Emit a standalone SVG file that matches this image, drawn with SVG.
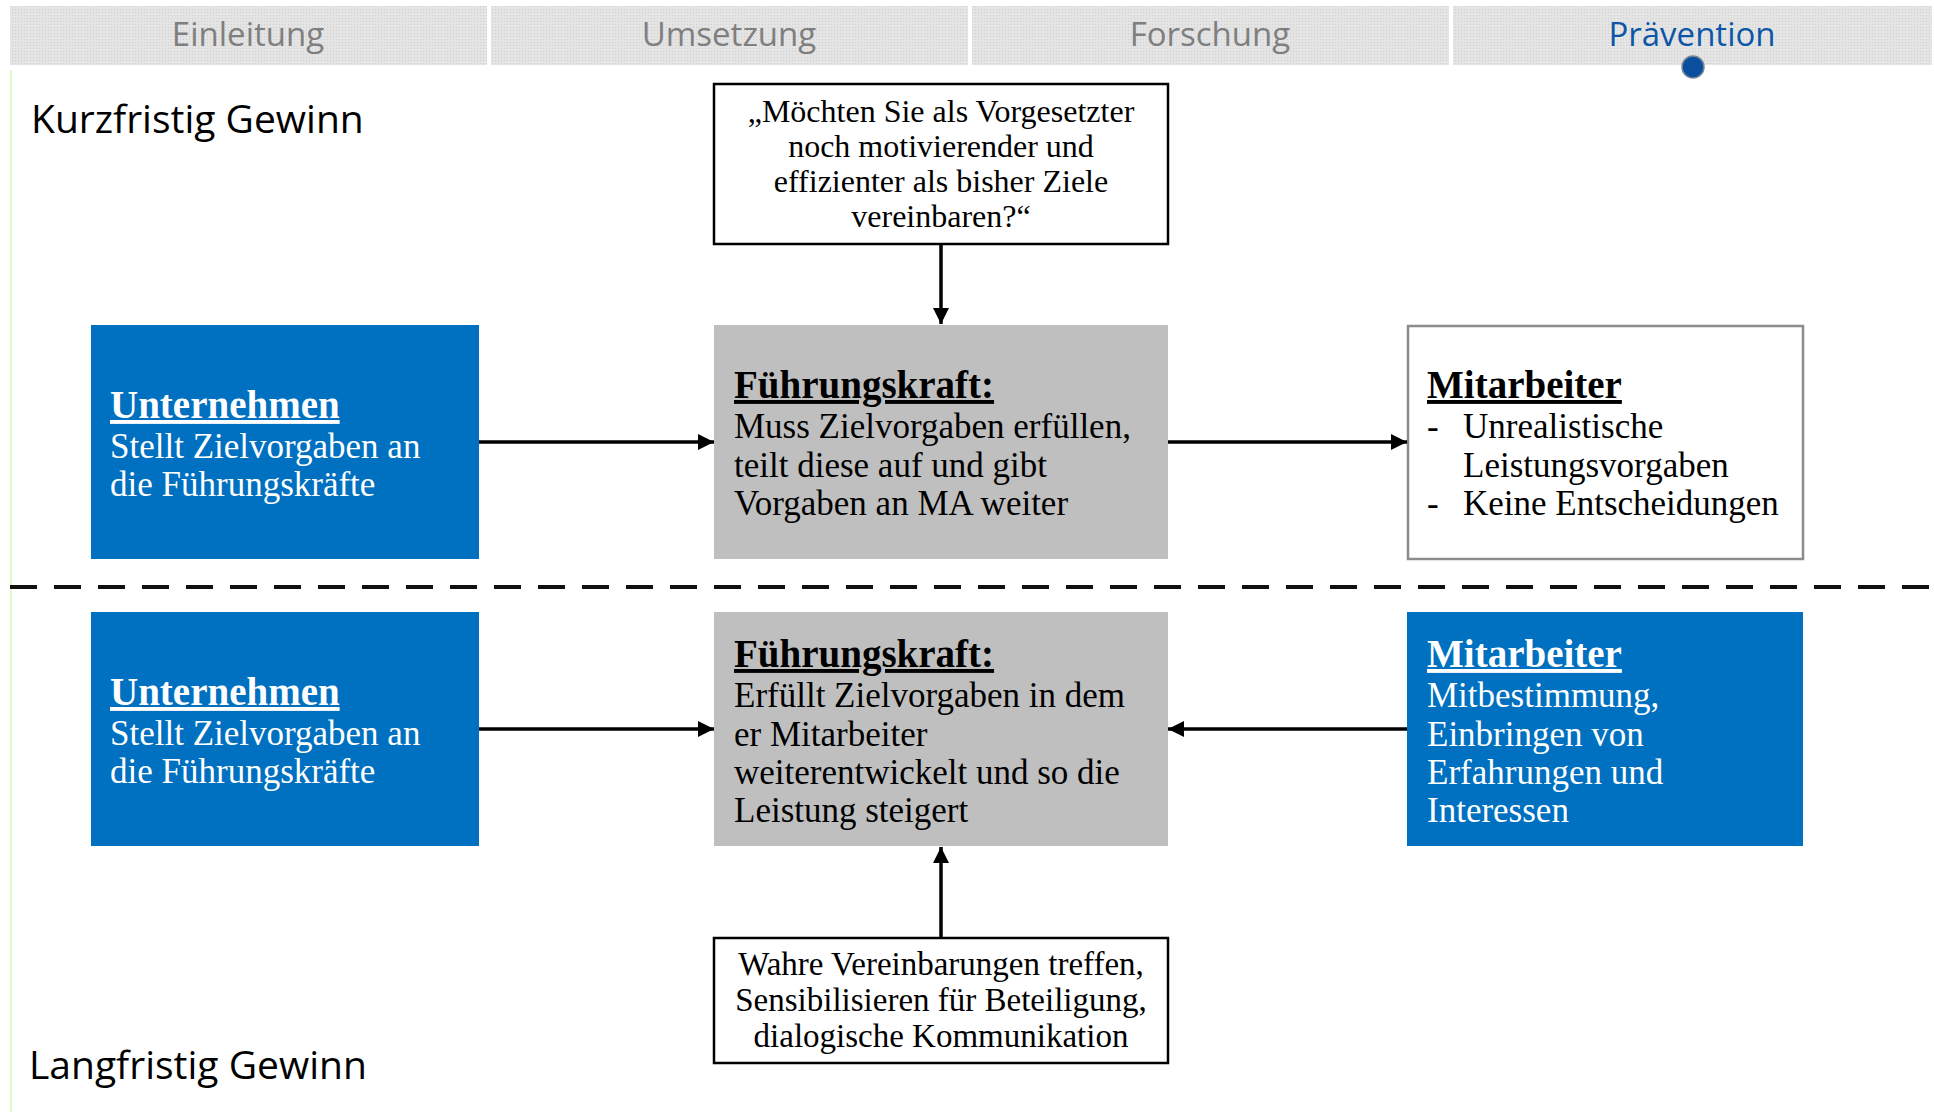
<svg xmlns="http://www.w3.org/2000/svg" width="1934" height="1118" viewBox="0 0 1934 1118">
<defs>
<pattern id="halftone" width="3" height="3" patternUnits="userSpaceOnUse">
<rect width="3" height="3" fill="#e4e4e4"/>
<rect width="1" height="1" fill="#cfcfcf"/>
</pattern>
<marker id="arr" viewBox="0 0 10 10" refX="10" refY="5" markerWidth="4.8" markerHeight="4.6" orient="auto" markerUnits="strokeWidth">
<path d="M0,0 L10,5 L0,10 Z" fill="#000"/>
</marker>
</defs>
<style>
.tab{fill:url(#halftone);}
.tabt{font-family:"Open Sans","DejaVu Sans",sans-serif;font-size:33px;fill:#7f7f7f;text-anchor:middle;}
.side{font-family:"Open Sans","DejaVu Sans",sans-serif;font-size:39px;fill:#000;}
.blue{fill:#0070c0;}
.gray{fill:#bfbfbf;}
.frame{fill:#fff;stroke:#000;stroke-width:2.5;}
.wframe{fill:#fff;stroke:#8c8c8c;stroke-width:2.5;}
.hd{font-family:"Liberation Serif","Times New Roman",serif;font-size:39px;font-weight:bold;text-decoration:underline;}
.bd{font-family:"Liberation Serif","Times New Roman",serif;font-size:35px;}
.q{font-family:"Liberation Serif","Times New Roman",serif;font-size:32px;fill:#000;text-anchor:middle;}
.w{fill:#fff;}
.k{fill:#000;}
.con{stroke:#000;stroke-width:3.5;fill:none;marker-end:url(#arr);}
</style>

<g id="header">
<rect class="tab" x="10" y="6" width="477" height="59"/>
<rect class="tab" x="491" y="6" width="477" height="59"/>
<rect class="tab" x="972" y="6" width="477" height="59"/>
<rect class="tab" x="1453" y="6" width="479" height="59"/>
<text class="tabt" x="248" y="46">Einleitung</text>
<text class="tabt" x="729" y="46">Umsetzung</text>
<text class="tabt" x="1210" y="46">Forschung</text>
<text class="tabt" x="1692" y="46" style="fill:#0d56a6">Prävention</text>
<circle cx="1693" cy="67" r="11" fill="#0a4f9e" stroke="#7a8796" stroke-width="1.5"/>
</g>

<line x1="11" y1="70" x2="11" y2="1112" stroke="#d4f7b0" stroke-width="1.5"/>

<text class="side" x="31" y="133">Kurzfristig Gewinn</text>
<text class="side" x="29" y="1079">Langfristig Gewinn</text>

<line x1="10" y1="587" x2="1934" y2="587" stroke="#111" stroke-width="4" stroke-dasharray="27 17"/>

<g id="question">
<rect class="frame" x="714" y="84" width="454" height="160"/>
<text class="q" x="941" y="122">„Möchten Sie als Vorgesetzter</text>
<text class="q" x="941" y="157">noch motivierender und</text>
<text class="q" x="941" y="192">effizienter als bisher Ziele</text>
<text class="q" x="941" y="227">vereinbaren?“</text>
</g>

<g id="unternehmen1">
<rect class="blue" x="91" y="325" width="388" height="234"/>
<text class="hd w" x="110" y="418">Unternehmen</text>
<text class="bd w" x="110" y="458">Stellt Zielvorgaben an</text>
<text class="bd w" x="110" y="496">die Führungskräfte</text>
</g>

<g id="fuehrung1">
<rect class="gray" x="714" y="325" width="454" height="234"/>
<text class="hd k" x="734" y="398">Führungskraft:</text>
<text class="bd k" x="734" y="438">Muss Zielvorgaben erfüllen,</text>
<text class="bd k" x="734" y="477">teilt diese auf und gibt</text>
<text class="bd k" x="734" y="515">Vorgaben an MA weiter</text>
</g>

<g id="mitarbeiter1">
<rect class="wframe" x="1408" y="326" width="395" height="233"/>
<text class="hd k" x="1427" y="398">Mitarbeiter</text>
<text class="bd k" x="1427" y="438">-</text>
<text class="bd k" x="1463" y="438">Unrealistische</text>
<text class="bd k" x="1463" y="477">Leistungsvorgaben</text>
<text class="bd k" x="1427" y="515">-</text>
<text class="bd k" x="1463" y="515">Keine Entscheidungen</text>
</g>

<g id="unternehmen2">
<rect class="blue" x="91" y="612" width="388" height="234"/>
<text class="hd w" x="110" y="705">Unternehmen</text>
<text class="bd w" x="110" y="745">Stellt Zielvorgaben an</text>
<text class="bd w" x="110" y="783">die Führungskräfte</text>
</g>

<g id="fuehrung2">
<rect class="gray" x="714" y="612" width="454" height="234"/>
<text class="hd k" x="734" y="667">Führungskraft:</text>
<text class="bd k" x="734" y="707">Erfüllt Zielvorgaben in dem</text>
<text class="bd k" x="734" y="746">er Mitarbeiter</text>
<text class="bd k" x="734" y="784">weiterentwickelt und so die</text>
<text class="bd k" x="734" y="822">Leistung steigert</text>
</g>

<g id="mitarbeiter2">
<rect class="blue" x="1407" y="612" width="396" height="234"/>
<text class="hd w" x="1427" y="667">Mitarbeiter</text>
<text class="bd w" x="1427" y="707">Mitbestimmung,</text>
<text class="bd w" x="1427" y="746">Einbringen von</text>
<text class="bd w" x="1427" y="784">Erfahrungen und</text>
<text class="bd w" x="1427" y="822">Interessen</text>
</g>

<g id="massnahmen">
<rect class="frame" x="714" y="938" width="454" height="125"/>
<text class="q" x="941" y="975" style="font-size:33px">Wahre Vereinbarungen treffen,</text>
<text class="q" x="941" y="1011" style="font-size:33px">Sensibilisieren für Beteiligung,</text>
<text class="q" x="941" y="1047" style="font-size:33px">dialogische Kommunikation</text>
</g>

<g id="connectors">
<line class="con" x1="941" y1="245" x2="941" y2="324"/>
<line class="con" x1="479" y1="442" x2="714" y2="442"/>
<line class="con" x1="1168" y1="442" x2="1407" y2="442"/>
<line class="con" x1="479" y1="729" x2="714" y2="729"/>
<line class="con" x1="1407" y1="729" x2="1168" y2="729"/>
<line class="con" x1="941" y1="937" x2="941" y2="847"/>
</g>
</svg>
